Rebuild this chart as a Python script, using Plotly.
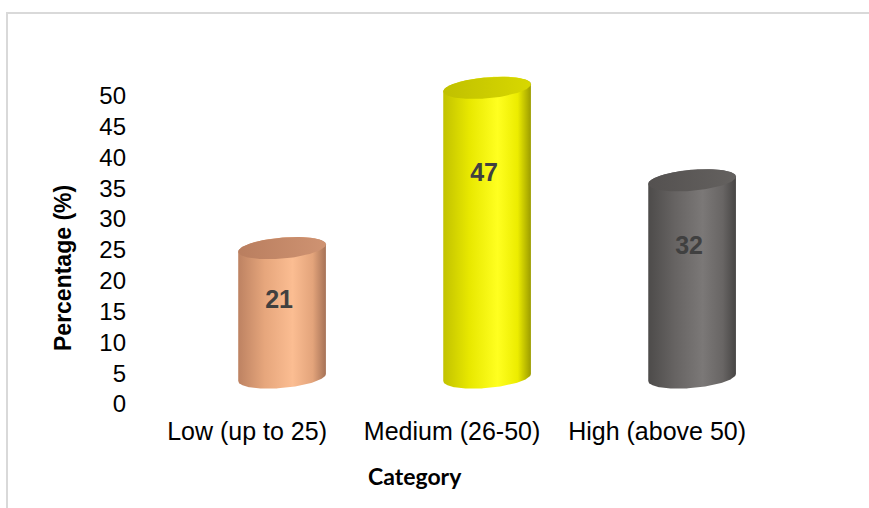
import numpy as np
import plotly.graph_objects as go

# ---- data ----
categories = ["Low (up to 25)", "Medium (26-50)", "High (above 50)"]
values = [21, 47, 32]
y_ticks = [0, 5, 10, 15, 20, 25, 30, 35, 40, 45, 50]
body_scales = [
    [[0, "#bd8262"], [0.3, "#e6a67c"], [0.62, "#fbbd92"], [0.85, "#e3a47b"], [1, "#a67257"]],
    [[0, "#c2c200"], [0.3, "#e8e800"], [0.62, "#ffff20"], [0.85, "#ecec00"], [1, "#9c9c00"]],
    [[0, "#4d4b4a"], [0.3, "#666362"], [0.62, "#7b7877"], [0.85, "#686564"], [1, "#474544"]],
]
cap_scales = [
    [[0, "#b97e5f"], [1, "#cf9372"]],
    [[0, "#c0c000"], [1, "#d8d800"]],
    [[0, "#545150"], [1, "#64615f"]],
]
label_color = "#404040"

# ---- layout geometry ----
W, H = 869, 508
ML, MR, MT, MB = 130, 28, 65, 104
PW, PH = W - ML - MR, H - MT - MB
XR = [-0.571, 2.897]
YR = [0, 55]
PXX = PW / (XR[1] - XR[0])
PXY = PH / (YR[1] - YR[0])

A_PX, B_PX = 44.0, 10.5          # ellipse semi-axes (px)
TH = np.radians(5)               # ellipse tilt
DX_PX, DY_PX = 35.0, 26.5        # 3-D depth offset (px)


def ellipse(t, cx, cy):
    ex = A_PX * np.cos(t) * np.cos(TH) - B_PX * np.sin(t) * np.sin(TH)
    ey = A_PX * np.cos(t) * np.sin(TH) + B_PX * np.sin(t) * np.cos(TH)
    return cx + ex / PXX, cy + ey / PXY


tR = np.arctan(-B_PX * np.tan(TH) / A_PX)
tL = tR + np.pi

fig = go.Figure()
for i, v in enumerate(values):
    cx = i + DX_PX / PXX
    cy0 = DY_PX / PXY
    cy1 = cy0 + v
    bx, by = ellipse(np.linspace(tL, tR + 2 * np.pi, 120), cx, cy0)
    tx, ty = ellipse(np.linspace(tR, tL, 120), cx, cy1)
    xs = np.concatenate([bx, tx, bx[:1]])
    ys = np.concatenate([by, ty, by[:1]])
    fig.add_trace(go.Scatter(
        x=xs, y=ys, mode="lines", fill="toself", line=dict(width=0),
        fillgradient=dict(type="horizontal", colorscale=body_scales[i]),
        hoverinfo="skip", showlegend=False))
    cxs, cys = ellipse(np.linspace(0, 2 * np.pi, 160), cx, cy1)
    fig.add_trace(go.Scatter(
        x=cxs, y=cys, mode="lines", fill="toself", line=dict(width=0),
        fillgradient=dict(type="horizontal", colorscale=cap_scales[i]),
        hoverinfo="skip", showlegend=False))
    fig.add_trace(go.Scatter(
        x=[cx - 3 / PXX], y=[0.79 * v], mode="text", text=[str(v)],
        textfont=dict(family="Liberation Sans", size=25, color=label_color, weight="bold"),
        hoverinfo="skip", showlegend=False))

fig.update_xaxes(range=XR, tickvals=[0, 1, 2], ticktext=categories,
                 showgrid=False, zeroline=False, showline=False, ticks="",
                 tickfont=dict(family="Liberation Sans", size=25, color="#000000"),
                 ticklabelstandoff=10, fixedrange=True)
fig.update_yaxes(range=YR, tickvals=y_ticks,
                 showgrid=False, zeroline=False, showline=False, ticks="",
                 tickfont=dict(family="Liberation Sans", size=24, color="#000000"),
                 ticklabelstandoff=3, fixedrange=True)


def px_to_paper(x, y):
    return (x - ML) / PW, (H - MB - y) / PH


bx0, by1 = px_to_paper(7, 13)
bx1, by0 = px_to_paper(900, 540)
tx_, ty_ = px_to_paper(63, 268)
cx_, cy_ = px_to_paper(415, 476)

fig.update_layout(
    width=W, height=H,
    margin=dict(l=ML, r=MR, t=MT, b=MB),
    paper_bgcolor="white", plot_bgcolor="white",
    shapes=[dict(type="rect", xref="paper", yref="paper",
                 x0=bx0, x1=bx1, y0=by0, y1=by1,
                 line=dict(color="#d9d9d9", width=2), layer="below")],
    annotations=[
        dict(text="Percentage (%)", xref="paper", yref="paper", x=tx_, y=ty_,
             textangle=-90, showarrow=False, xanchor="center", yanchor="middle",
             font=dict(family="Liberation Sans", size=23, color="#000000", weight="bold")),
        dict(text="Category", xref="paper", yref="paper", x=cx_, y=cy_,
             showarrow=False, xanchor="center", yanchor="middle",
             font=dict(family="Lato", size=23, color="#000000", weight="bold")),
    ],
)

fig.write_html("out.html")
